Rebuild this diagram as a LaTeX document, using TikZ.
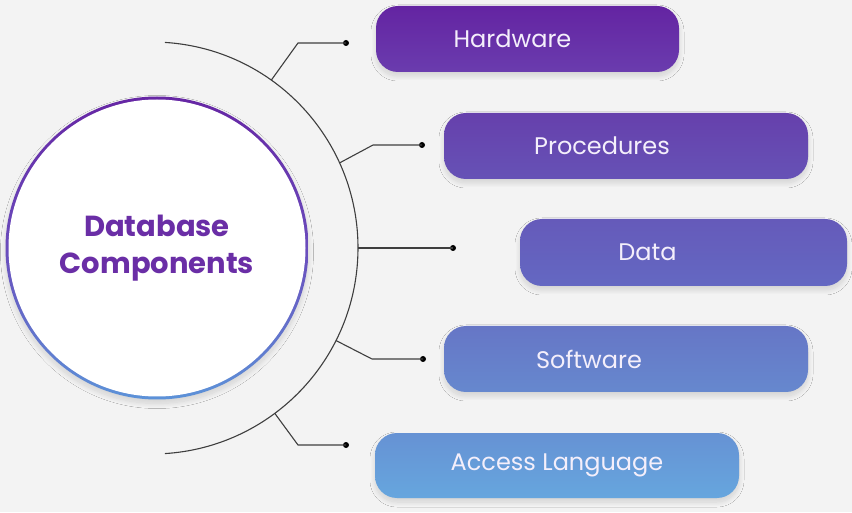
\documentclass[tikz,border=0pt]{standalone}
\usepackage{fontspec}
\setmainfont{Poppins}
\usetikzlibrary{calc,shadows.blur}

\definecolor{bgcol}{HTML}{F3F3F3}
\definecolor{linecol}{HTML}{3E3E3E}
\definecolor{hubtxt}{HTML}{6A2EA6}
\definecolor{hubtop}{HTML}{6626A4}
\definecolor{hubmid}{HTML}{6A4CBC}
\definecolor{hubbot}{HTML}{5C92D8}
\definecolor{labtxt}{HTML}{F4EFFB}
\definecolor{hwtop}{HTML}{6424A2}\definecolor{hwbot}{HTML}{6A3CAE}
\definecolor{prtop}{HTML}{6640AC}\definecolor{prbot}{HTML}{6652B6}
\definecolor{datop}{HTML}{655ABA}\definecolor{dabot}{HTML}{6468C2}
\definecolor{swtop}{HTML}{6676C6}\definecolor{swbot}{HTML}{6688CE}
\definecolor{actop}{HTML}{6692D4}\definecolor{acbot}{HTML}{66A6DE}

\tikzset{
  x=1pt, y=1pt,
  link/.style={draw=linecol, line width=1.1pt},
  dotnode/.style={circle, fill=black, inner sep=0pt, minimum size=6pt},
  softshadow/.style={blur shadow={shadow xshift=0pt, shadow yshift=-4pt,
      shadow blur radius=5pt, shadow blur steps=20, shadow opacity=14}},
  itembox/.style={rounded corners=22pt, inner sep=0pt, softshadow,
      minimum height=66pt},
  itemtext/.style={text=labtxt, font=\fontsize{24}{28}\selectfont},
}

\begin{document}
\begin{tikzpicture}
  % canvas
  \fill[bgcol] (0,0) rectangle (852,512);
  \useasboundingbox (0,0) rectangle (852,512);

  % central hub with a two-tone rim
  \node[circle, inner sep=0pt, minimum size=303pt, softshadow,
        top color=hubtop, bottom color=hubbot, middle color=hubmid,
        path picture={\fill[white] (path picture bounding box.center) circle (148.5pt);},
        align=center, text=hubtxt,
        font=\bfseries\fontsize{29}{37}\selectfont] (hub) at (157,264)
        {Database\\Components};

  % outer arc around the hub
  \coordinate (arcc) at (152,264);
  \draw[link] ($(arcc)+(86.4:206pt)$) arc[start angle=86.4, end angle=-86.4, radius=206pt];

  % attachment points on the arc
  \coordinate (a1) at ($(arcc)+(54.6:206pt)$);
  \coordinate (a2) at ($(arcc)+(24.4:206pt)$);
  \coordinate (a3) at ($(arcc)+(0:206pt)$);
  \coordinate (a4) at ($(arcc)+(-26.7:206pt)$);
  \coordinate (a5) at ($(arcc)+(-53.4:206pt)$);

  % elbows
  \coordinate (e1) at (298,469);
  \coordinate (e2) at (373,367);
  \coordinate (e4) at (372,153);
  \coordinate (e5) at (298,67);

  % end dots
  \node[dotnode] (d1) at (346,469) {};
  \node[dotnode] (d2) at (422,367) {};
  \node[dotnode] (d3) at (453,264) {};
  \node[dotnode] (d4) at (423,153) {};
  \node[dotnode] (d5) at (346,67) {};

  \draw[link] (a1) -- (e1) -- (d1.center);
  \draw[link] (a2) -- (e2) -- (d2.center);
  \draw[link] (a3) -- (d3.center);
  \draw[link] (a4) -- (e4) -- (d4.center);
  \draw[link] (a5) -- (e5) -- (d5.center);

  % component boxes
  \node[itembox, minimum width=303pt, top color=hwtop, bottom color=hwbot,
        label={[itemtext, xshift=-15pt]center:Hardware}] (hw) at (527.5,473) {};
  \node[itembox, minimum width=364pt, top color=prtop, bottom color=prbot,
        label={[itemtext, xshift=-24pt]center:Procedures}] (pr) at (626,366) {};
  \node[itembox, minimum width=327pt, minimum height=67pt, top color=datop, bottom color=dabot,
        label={[itemtext, xshift=-36pt]center:Data}] (da) at (683.5,259.5) {};
  \node[itembox, minimum width=364pt, top color=swtop, bottom color=swbot,
        label={[itemtext, xshift=-37pt]center:Software}] (sw) at (626,153) {};
  \node[itembox, minimum width=364pt, minimum height=65pt, top color=actop, bottom color=acbot,
        label={[itemtext]center:Access Language}] (ac) at (557,46.5) {};
\end{tikzpicture}
\end{document}
